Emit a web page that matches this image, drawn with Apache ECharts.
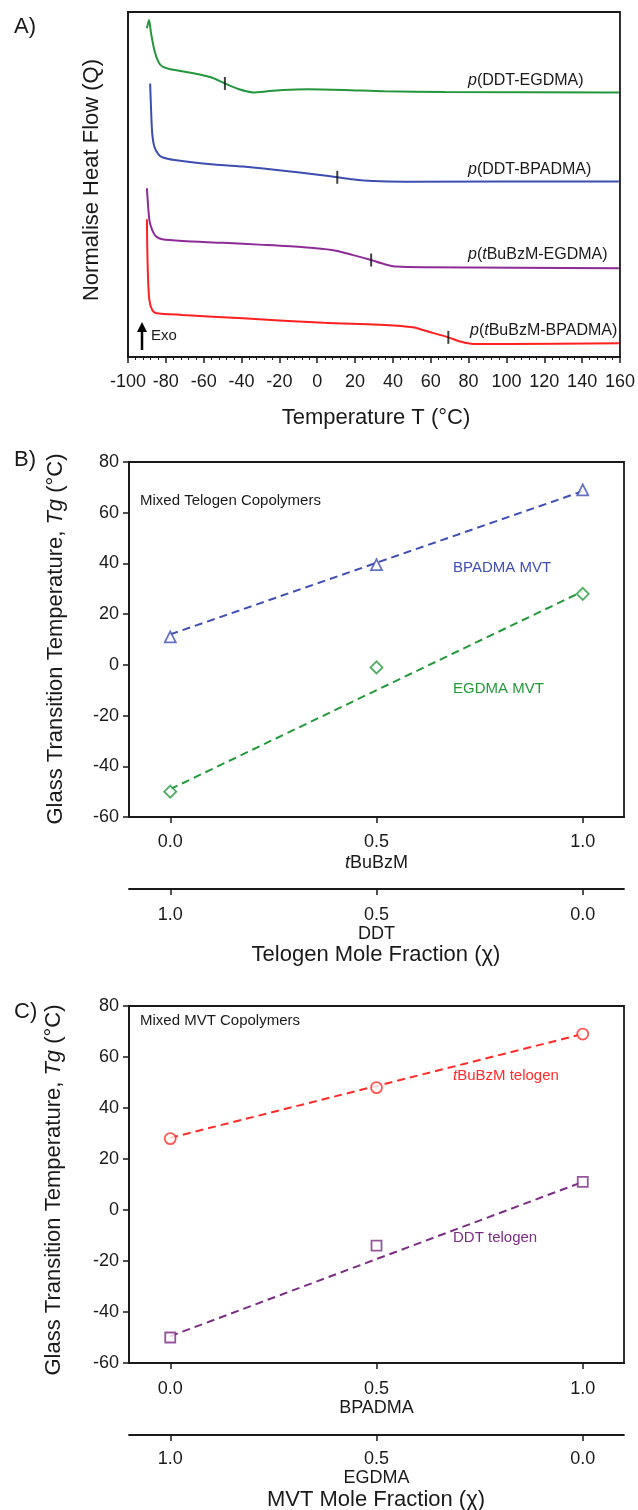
<!DOCTYPE html>
<html>
<head>
<meta charset="utf-8">
<script src="https://cdn.jsdelivr.net/npm/echarts@6/dist/echarts.min.js"></script>
<style>
  html, body { margin: 0; padding: 0; background: #fff; }
  #chart { width: 638px; height: 1510px; }
</style>
</head>
<body>
<div id="chart"></div>
<script>
// ---- Panel A: DSC traces, [temperature °C, normalised heat flow (arb.)] ----
const dscDDT_EGDMA = [[-90, 95.3], [-88.9, 97.7], [-87.8, 93.8], [-86.1, 89.0], [-84.0, 85.6], [-81.9, 84.2],
  [-77.6, 83.4], [-66.9, 82.4], [-56.2, 81.1], [-48.8, 79.3], [-41.3, 77.6], [-33.8, 76.7], [-26.4, 77.0],
  [-17.8, 77.4], [-5.0, 77.6], [14.2, 77.4], [35.6, 77.0], [67.6, 76.8], [159.4, 76.7]];
const dscDDT_BPADMA = [[-88.3, 79.3], [-87.8, 71.6], [-87.2, 64.8], [-86.1, 61.0], [-84.0, 58.8], [-81.9, 57.9],
  [-75.5, 57.1], [-60.5, 56.1], [-39.2, 55.2], [-17.8, 54.0], [-0.7, 52.9], [10.6, 52.1], [18.5, 51.5],
  [29.1, 51.0], [46.2, 50.8], [159.4, 50.9]];
const dscBuBzM_EGDMA = [[-90, 48.9], [-89.6, 45.5], [-88.7, 39.7], [-87.2, 36.8], [-85.1, 34.9], [-81.9, 34.1],
  [-71.2, 33.6], [-49.8, 33.1], [-28.5, 32.5], [-7.1, 31.8], [7.8, 31.0], [18.5, 29.6], [28.5, 28.1],
  [35.6, 26.9], [42.0, 26.2], [56.9, 26.0], [159.4, 25.7]];
const dscBuBzM_BPADMA = [[-90, 39.9], [-89.8, 31.0], [-89.3, 21.4], [-88.7, 16.5], [-87.2, 13.6], [-85.1, 12.7],
  [-71.2, 12.2], [-39.2, 11.2], [3.5, 9.9], [35.6, 9.3], [50.5, 8.6], [59.0, 7.3], [69.3, 5.7],
  [76.1, 4.4], [82.5, 3.8], [99.6, 3.8], [159.4, 4.0]];
const tgMarksA = [[-48.8, 79.3], [10.6, 52.1], [28.5, 28.1], [69.3, 5.7]];

// ---- Panel B: mixed telogen copolymers ----
const fracB = [0, 0.5, 1.0];
const tgBPADMA_MVT = [11, 39.5, 69];
const tgEGDMA_MVT = [-50, -1, 28];
const fitBPADMA_MVT = [[0, 12], [1, 68.5]];
const fitEGDMA_MVT = [[0, -49], [1, 29]];

// ---- Panel C: mixed MVT copolymers ----
const fracC = [0, 0.5, 1.0];
const tgBuBzM_telogen = [28, 48, 69];
const tgDDT_telogen = [-50, -14, 11];
const fitBuBzM_telogen = [[0, 28.3], [1, 69]];
const fitDDT_telogen = [[0, -49.5], [1, 11]];

const fracTicks = [0, 0.5, 1.0];

const FONT = "'Liberation Sans', Arial, Helvetica, sans-serif";
const INK = '#1a1a1a';

const chart = echarts.init(document.getElementById('chart'), null, { renderer: 'canvas' });

function fracAxis(grid, name, inverse, offset, margin, nameGap) {
  return {
    gridIndex: grid, type: 'value', min: -0.1, max: 1.1, inverse: inverse,
    position: 'bottom', offset: offset,
    name: name, nameLocation: 'middle', nameGap: nameGap,
    nameTextStyle: { fontFamily: FONT, fontSize: 18, color: INK,
      rich: { i: { fontFamily: FONT, fontSize: 18, fontStyle: 'italic', color: INK } } },
    axisLine: { show: true, onZero: false, lineStyle: { color: INK, width: 1.8 } },
    axisTick: { show: true, length: 6, customValues: fracTicks, lineStyle: { color: INK, width: 1.5 } },
    axisLabel: { customValues: fracTicks, fontFamily: FONT, fontSize: 18, color: INK, margin: margin,
      formatter: v => v.toFixed(1) },
    splitLine: { show: false }
  };
}

function tgAxis(grid) {
  return {
    gridIndex: grid, type: 'value', min: -60, max: 80, interval: 20,
    axisLine: { show: true, onZero: false, lineStyle: { color: INK, width: 1.8 } },
    axisTick: { show: true, length: 6, lineStyle: { color: INK, width: 1.5 } },
    axisLabel: { fontFamily: FONT, fontSize: 18, color: INK, margin: 10 },
    splitLine: { show: false }
  };
}

function dscLine(data, color) {
  return { type: 'line', xAxisIndex: 0, yAxisIndex: 0, data: data, showSymbol: false, smooth: 0.25,
    lineStyle: { color: color, width: 2 }, silent: true, z: 2 };
}

function fitLine(xi, yi, data, color) {
  return { type: 'line', xAxisIndex: xi, yAxisIndex: yi, data: data, showSymbol: false,
    lineStyle: { color: color, width: 2, type: [8, 5] }, silent: true, z: 2 };
}

function markers(xi, yi, xs, ys, symbol, size, color) {
  return { type: 'scatter', xAxisIndex: xi, yAxisIndex: yi, data: xs.map((x, i) => [x, ys[i]]),
    symbol: symbol, symbolSize: size,
    itemStyle: { color: '#fff', borderColor: color, borderWidth: 1.8 }, z: 4 };
}

function txt(x, y, text, size, color, extra) {
  return Object.assign({
    type: 'text', x: x, y: y,
    style: Object.assign({ text: text, fontFamily: FONT, fontSize: size, fill: color,
      align: 'left', verticalAlign: 'middle',
      rich: { i: { fontFamily: FONT, fontSize: size, fontStyle: 'italic', fill: color } } },
      extra && extra.style || {})
  }, extra && extra.el || {});
}

const tgTitle = 'Glass Transition Temperature, {it|T}{g|g} (°C)';
const tgTitleRich = {
  it: { fontFamily: FONT, fontSize: 22, fontStyle: 'italic', fill: INK },
  g: { fontFamily: FONT, fontSize: 22, fontStyle: 'italic', fill: INK }
};

const option = {
  backgroundColor: '#fff',
  animation: false,
  grid: [
    { left: 128, right: 13, top: 12, height: 345, show: true, borderColor: INK, borderWidth: 1.8, backgroundColor: 'transparent' },
    { left: 129, right: 14, top: 462, height: 355, show: true, borderColor: INK, borderWidth: 1.8, backgroundColor: 'transparent' },
    { left: 129, right: 14, top: 1006, height: 357, show: true, borderColor: INK, borderWidth: 1.8, backgroundColor: 'transparent' }
  ],
  xAxis: [
    {
      gridIndex: 0, type: 'value', min: -100, max: 160, interval: 20,
      axisLine: { show: true, onZero: false, lineStyle: { color: INK, width: 1.8 } },
      axisTick: { show: true, length: 6, lineStyle: { color: INK, width: 1.5 } },
      minorTick: { show: true, splitNumber: 5, length: 3, lineStyle: { color: INK, width: 1 } },
      axisLabel: { fontFamily: FONT, fontSize: 18, color: INK, margin: 16 },
      splitLine: { show: false }
    },
    fracAxis(1, '{i|t}BuBzM', false, 0, 16, 37),
    fracAxis(1, 'DDT', true, 72, 17, 32),
    fracAxis(2, 'BPADMA', false, 0, 17, 36),
    fracAxis(2, 'EGDMA', true, 72, 15, 32)
  ],
  yAxis: [
    { gridIndex: 0, type: 'value', min: 0, max: 100,
      axisLine: { show: true, onZero: false, lineStyle: { color: INK, width: 1.8 } },
      axisTick: { show: false }, axisLabel: { show: false }, splitLine: { show: false } },
    tgAxis(1),
    tgAxis(2)
  ],
  series: [
    dscLine(dscDDT_EGDMA, '#23963c'),
    dscLine(dscDDT_BPADMA, '#3d4db0'),
    dscLine(dscBuBzM_EGDMA, '#8c2c96'),
    dscLine(dscBuBzM_BPADMA, '#ff2020'),
    { type: 'scatter', xAxisIndex: 0, yAxisIndex: 0, data: tgMarksA, symbol: 'rect', symbolSize: [2, 13],
      itemStyle: { color: '#111' }, silent: true, z: 5 },

    fitLine(1, 1, fitBPADMA_MVT, '#3f4fb3'),
    fitLine(1, 1, fitEGDMA_MVT, '#239a3a'),
    markers(1, 1, fracB, tgBPADMA_MVT, 'triangle', 11, '#3f4fb3'),
    markers(1, 1, fracB, tgEGDMA_MVT, 'diamond', 12, '#239a3a'),

    fitLine(3, 2, fitBuBzM_telogen, '#ff2a2a'),
    fitLine(3, 2, fitDDT_telogen, '#7b2c84'),
    markers(3, 2, fracC, tgBuBzM_telogen, 'circle', 11, '#ff2a2a'),
    markers(3, 2, fracC, tgDDT_telogen, 'rect', 10, '#7b2c84')
  ],
  graphic: [
    // panel letters
    txt(14, 27, 'A)', 22, INK),
    txt(14, 460, 'B)', 22, INK),
    txt(14, 1012, 'C)', 22, INK),

    // panel A annotations
    txt(92, 180, 'Normalise Heat Flow (Q)', 22, INK, { style: { align: 'center' }, el: { rotation: Math.PI / 2 } }),
    txt(376, 418, 'Temperature T (°C)', 22, INK, { style: { align: 'center' } }),
    txt(468, 81, '{i|p}(DDT-EGDMA)', 16, INK),
    txt(468, 170, '{i|p}(DDT-BPADMA)', 16, INK),
    txt(468, 255, '{i|p}({i|t}BuBzM-EGDMA)', 16, INK),
    txt(470, 331, '{i|p}({i|t}BuBzM-BPADMA)', 16, INK),
    { type: 'line', shape: { x1: 142, y1: 350, x2: 142, y2: 330 }, style: { stroke: '#000', lineWidth: 2.5 } },
    { type: 'polygon', shape: { points: [[137, 332], [147, 332], [142, 322]] }, style: { fill: '#000' } },
    txt(151, 336, 'Exo', 15, INK),

    // panel B annotations
    { type: 'text', x: 56, y: 639, rotation: Math.PI / 2,
      style: { text: tgTitle, fontFamily: FONT, fontSize: 22, fill: INK, align: 'center', verticalAlign: 'middle', rich: tgTitleRich } },
    txt(376, 955, 'Telogen Mole Fraction (χ)', 22, INK, { style: { align: 'center' } }),
    txt(140, 501, 'Mixed Telogen Copolymers', 15, INK),
    txt(453, 568, 'BPADMA MVT', 15, '#3f4fb3'),
    txt(453, 689, 'EGDMA MVT', 15, '#239a3a'),

    // panel C annotations
    { type: 'text', x: 54, y: 1190, rotation: Math.PI / 2,
      style: { text: tgTitle, fontFamily: FONT, fontSize: 22, fill: INK, align: 'center', verticalAlign: 'middle', rich: tgTitleRich } },
    txt(376, 1500, 'MVT Mole Fraction (χ)', 22, INK, { style: { align: 'center' } }),
    txt(140, 1021, 'Mixed MVT Copolymers', 15, INK),
    txt(453, 1076, '{i|t}BuBzM telogen', 15, '#ff2a2a'),
    txt(453, 1238, 'DDT telogen', 15, '#7b2c84')
  ]
};

chart.setOption(option);
</script>
</body>
</html>
